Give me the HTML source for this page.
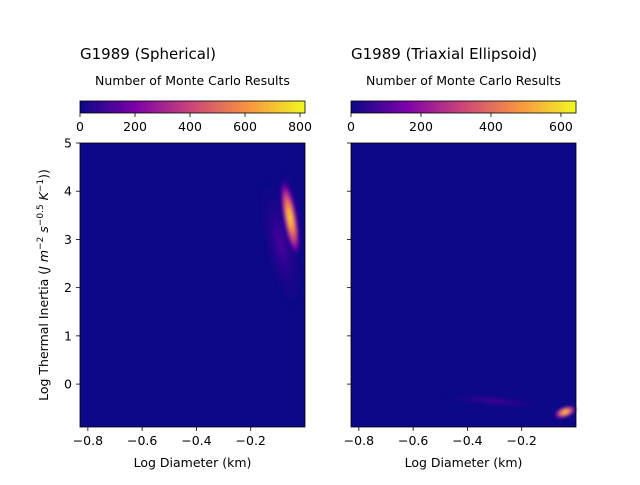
<!DOCTYPE html>
<html><head><meta charset="utf-8"><style>
body{margin:0;background:#fff;font-family:"Liberation Sans","DejaVu Sans",sans-serif}
svg text{font-family:"DejaVu Sans","Liberation Sans",sans-serif;fill:#000}
</style></head><body>
<svg id="c" width="640" height="480" viewBox="0 0 640 480">
<defs>
<linearGradient id="plasma" x1="0" x2="1" y1="0" y2="0">
<stop offset="0" stop-color="#0d0887"/><stop offset="0.25" stop-color="#7e03a8"/>
<stop offset="0.5" stop-color="#cc4778"/><stop offset="0.75" stop-color="#f89540"/>
<stop offset="1" stop-color="#f0f921"/></linearGradient>
<radialGradient id="blob">
<stop offset="0" stop-color="#f6e626"/><stop offset="0.25" stop-color="#fca636"/>
<stop offset="0.5" stop-color="#d5546e"/><stop offset="0.75" stop-color="#7e03a8"/>
<stop offset="1" stop-color="#0d0887" stop-opacity="0"/></radialGradient>
<radialGradient id="faint">
<stop offset="0" stop-color="#5a02a3" stop-opacity="0.85"/>
<stop offset="1" stop-color="#0d0887" stop-opacity="0"/></radialGradient>
<filter id="bl"><feGaussianBlur stdDeviation="1.5"/></filter>
</defs>
</svg>
<script>
const xTicks=[-0.8,-0.6,-0.4,-0.2];
const yTicks=[0,1,2,3,4,5];
const cbTicksLeft=[0,200,400,600,800];
const cbTicksRight=[0,200,400,600];
const cbMax=[818,643];
const titles=["G1989 (Spherical)","G1989 (Triaxial Ellipsoid)"];
// blobs: [logD, logTI, rxData, ryData, angleDeg, gradient]
const blobsLeft=[[-0.09,2.9,0.07,1.5,-12,"faint"],[-0.05,3.6,0.04,1.0,-8,"faint"],[-0.055,3.45,0.028,0.85,-10,"blob"]];
const blobsRight=[[-0.3,-0.35,0.22,0.12,5,"faint"],[-0.04,-0.58,0.045,0.12,-20,"blob"]];
const NS="http://www.w3.org/2000/svg";
const svg=document.getElementById('c');
function mk(t,a,p){const e=document.createElementNS(NS,t);for(const k in a)e.setAttribute(k,a[k]);(p||svg).appendChild(e);return e;}
const X0=-0.829,X1=0.0,Y0=-0.89,Y1=5;
const T=143,B=427;
function panel(L,R,idx,blobs,cbt){
 const sx=v=>L+(v-X0)/(X1-X0)*(R-L), sy=v=>B-(v-Y0)/(Y1-Y0)*(B-T);
 const g=mk('g',{});
 
 
 const bg=mk('rect',{x:L,y:T,width:R-L,height:B-T,fill:'#0d0887'},g);
 
 
 const cg=mk('g',{'clip-path':'inset(0)'},g);
 blobs.forEach(b=>{
  const cx=sx(b[0]),cy=sy(b[1]),rx=b[2]/(X1-X0)*(R-L),ry=b[3]/(Y1-Y0)*(B-T);
  const e=mk('ellipse',{cx:cx,cy:cy,rx:rx,ry:ry,fill:'url(#'+b[5]+')',transform:`rotate(${b[4]} ${cx} ${cy})`,filter:'url(#bl)'},cg);
  
  
 });
 mk('rect',{x:L,y:T,width:R-L,height:B-T,fill:'none',stroke:'#000','stroke-width':0.8},g);
 xTicks.forEach(v=>{const x=sx(v);mk('line',{x1:x,x2:x,y1:B,y2:B+4,stroke:'#000','stroke-width':0.8},g);
  const t=mk('text',{x:x,y:B+18,'text-anchor':'middle','font-size':12.5},g);t.textContent=v.toFixed(1).replace('-','−');
  });
 yTicks.forEach(v=>{const y=sy(v);mk('line',{x1:L,x2:L-4,y1:y,y2:y,stroke:'#000','stroke-width':0.8},g);
  if(idx===0){const t=mk('text',{x:L-8,y:y+4.5,'text-anchor':'end','font-size':12.5},g);t.textContent=v;
  }});
 const xl=mk('text',{x:(L+R)/2,y:467,'text-anchor':'middle','font-size':12.5},g);xl.textContent='Log Diameter (km)';
 
 const tt=mk('text',{x:L,y:59,'font-size':15},g);tt.textContent=titles[idx];
 
 const cl=mk('text',{x:(L+R)/2,y:85,'text-anchor':'middle','font-size':12.5},g);cl.textContent='Number of Monte Carlo Results';
 
 const cb=mk('rect',{x:L,y:101,width:R-L,height:12,fill:'url(#plasma)',stroke:'#000','stroke-width':0.8},g);
 
 cbt.forEach(v=>{const x=L+v/cbMax[idx]*(R-L);mk('line',{x1:x,x2:x,y1:113,y2:117,stroke:'#000','stroke-width':0.8},g);
  const t=mk('text',{x:x,y:131,'text-anchor':'middle','font-size':12.5},g);t.textContent=v;
  });
}
panel(80,305,0,blobsLeft,cbTicksLeft);
panel(351,576,1,blobsRight,cbTicksRight);
const yl=mk('text',{x:0,y:0,'text-anchor':'middle','font-size':12.5,transform:'translate(48 285) rotate(-90)'});
yl.innerHTML='Log Thermal Inertia (<tspan font-style="italic">J m</tspan><tspan dy="-5" font-size="9">−2</tspan><tspan dy="5" font-style="italic"> s</tspan><tspan dy="-5" font-size="9">−0.5</tspan><tspan dy="5" font-style="italic"> K</tspan><tspan dy="-5" font-size="9">−1</tspan><tspan dy="5">))</tspan>';


</script>
</body></html>
